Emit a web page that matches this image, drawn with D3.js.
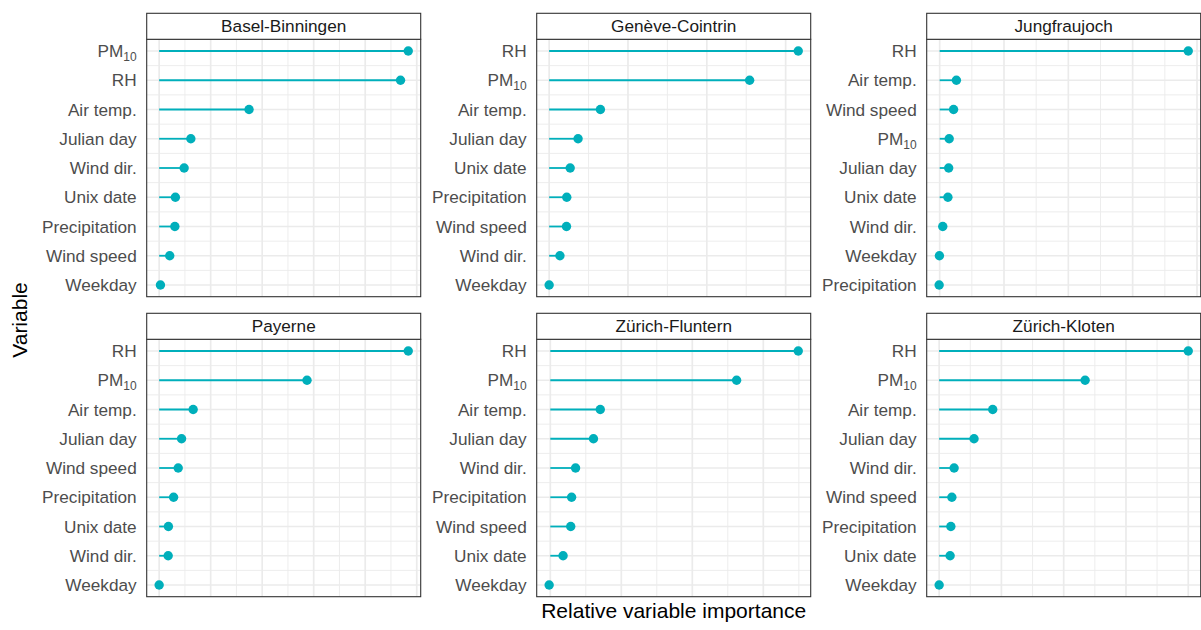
<!DOCTYPE html>
<html>
<head>
<meta charset="utf-8">
<script src="https://cdn.jsdelivr.net/npm/d3@7"></script>
<style>
  html, body { margin: 0; padding: 0; background: #ffffff; }
  svg { display: block; font-family: "Liberation Sans", Arial, Helvetica, sans-serif; }
</style>
</head>
<body>
<svg id="chart" width="1201" height="630"></svg>
<script>
// Station facets, in reading order (left to right, top to bottom)
const stations = ["Basel-Binningen", "Genève-Cointrin", "Jungfraujoch",
                  "Payerne", "Zürich-Fluntern", "Zürich-Kloten"];

// Variables per station, most important first
const varsBasel    = ["PM10", "RH", "Air temp.", "Julian day", "Wind dir.", "Unix date", "Precipitation", "Wind speed", "Weekday"];
const varsGeneve   = ["RH", "PM10", "Air temp.", "Julian day", "Unix date", "Precipitation", "Wind speed", "Wind dir.", "Weekday"];
const varsJungfrau = ["RH", "Air temp.", "Wind speed", "PM10", "Julian day", "Unix date", "Wind dir.", "Weekday", "Precipitation"];
const varsPayerne  = ["RH", "PM10", "Air temp.", "Julian day", "Wind speed", "Precipitation", "Unix date", "Wind dir.", "Weekday"];
const varsFluntern = ["RH", "PM10", "Air temp.", "Julian day", "Wind dir.", "Precipitation", "Wind speed", "Unix date", "Weekday"];
const varsKloten   = ["RH", "PM10", "Air temp.", "Julian day", "Wind dir.", "Wind speed", "Precipitation", "Unix date", "Weekday"];

// Relative importance values, same order as the variable lists
const impBasel    = [0.967, 0.937, 0.349, 0.123, 0.097, 0.063, 0.061, 0.041, 0.005];
const impGeneve   = [0.948, 0.763, 0.195, 0.110, 0.080, 0.067, 0.066, 0.041, 0.000];
const impJungfrau = [0.966, 0.065, 0.054, 0.037, 0.035, 0.032, 0.012, -0.001, -0.002];
const impPayerne  = [0.967, 0.574, 0.132, 0.087, 0.074, 0.056, 0.036, 0.035, 0.000];
const impFluntern = [0.873, 0.656, 0.176, 0.152, 0.089, 0.075, 0.072, 0.045, -0.004];
const impKloten   = [1.000, 0.586, 0.215, 0.140, 0.060, 0.051, 0.047, 0.044, 0.000];

// Major x breaks per station (free x scales, labels hidden)
const breaksBasel    = [0, 0.2, 0.4, 0.6, 0.8, 1.0];
const breaksGeneve   = [0, 0.3, 0.6, 0.9];
const breaksJungfrau = [0, 0.25, 0.5, 0.75, 1.0];
const breaksPayerne  = [0, 0.2, 0.4, 0.6, 0.8, 1.0];
const breaksFluntern = [0, 0.25, 0.5, 0.75];
const breaksKloten   = [0, 0.25, 0.5, 0.75, 1.0];

const stationVars   = [varsBasel, varsGeneve, varsJungfrau, varsPayerne, varsFluntern, varsKloten];
const stationImp    = [impBasel, impGeneve, impJungfrau, impPayerne, impFluntern, impKloten];
const stationBreaks = [breaksBasel, breaksGeneve, breaksJungfrau, breaksPayerne, breaksFluntern, breaksKloten];

const xTitle = "Relative variable importance";
const yTitle = "Variable";

// Layout
const svg = d3.select("#chart");
const colLeft = [146.7, 536.7, 926.7];
const panelW = 274;
const rowTop = [13.3, 313.3];
const stripH = 26;
const plotH = 257.4;
const accent = "#00AFBB";
const gridCol = "#EBEBEB";
const labelSize = 17.2;

stations.forEach((name, i) => {
  const col = i % 3, row = Math.floor(i / 3);
  const x0 = colLeft[col], x1 = x0 + panelW;
  const sTop = rowTop[row];
  const pTop = sTop + stripH, pBot = pTop + plotH;

  const vars = stationVars[i];
  const imp = stationImp[i];
  const breaks = stationBreaks[i];

  const lo = Math.min(0, d3.min(imp)), hi = d3.max(imp);
  const pad = (hi - lo) * 0.05;
  const x = d3.scaleLinear().domain([lo - pad, hi + pad]).range([x0, x1]);
  const y = d3.scalePoint().domain(vars).range([pTop, pBot]).padding(0.4);

  const g = svg.append("g");

  // panel background
  g.append("rect").attr("x", x0).attr("y", pTop)
    .attr("width", panelW).attr("height", plotH).attr("fill", "#ffffff");

  // minor vertical grid: halfway between majors (extended one step each side)
  const step = breaks[1] - breaks[0];
  const ext = [breaks[0] - step, ...breaks, breaks[breaks.length - 1] + step];
  const minors = d3.pairs(ext).map(([a, b]) => (a + b) / 2)
    .filter(v => v >= x.domain()[0] && v <= x.domain()[1]);
  const majors = breaks.filter(v => v >= x.domain()[0] && v <= x.domain()[1]);

  // minor horizontal grid between categories
  const yMinor = d3.pairs(vars).map(([a, b]) => (y(a) + y(b)) / 2);

  g.selectAll(".hmin").data(yMinor).join("line")
    .attr("x1", x0).attr("x2", x1).attr("y1", d => d).attr("y2", d => d)
    .attr("stroke", gridCol).attr("stroke-width", 0.9);
  g.selectAll(".vmin").data(minors).join("line")
    .attr("x1", d => x(d)).attr("x2", d => x(d)).attr("y1", pTop).attr("y2", pBot)
    .attr("stroke", gridCol).attr("stroke-width", 0.9);
  g.selectAll(".hmaj").data(vars).join("line")
    .attr("x1", x0).attr("x2", x1).attr("y1", d => y(d)).attr("y2", d => y(d))
    .attr("stroke", gridCol).attr("stroke-width", 1.7);
  g.selectAll(".vmaj").data(majors).join("line")
    .attr("x1", d => x(d)).attr("x2", d => x(d)).attr("y1", pTop).attr("y2", pBot)
    .attr("stroke", gridCol).attr("stroke-width", 1.7);

  // lollipop stems and heads
  const pts = vars.map((v, k) => ({ v, val: imp[k] }));
  g.selectAll(".stem").data(pts).join("line")
    .attr("x1", x(0)).attr("x2", d => x(d.val))
    .attr("y1", d => y(d.v)).attr("y2", d => y(d.v))
    .attr("stroke", accent).attr("stroke-width", 1.8);
  g.selectAll(".head").data(pts).join("circle")
    .attr("cx", d => x(d.val)).attr("cy", d => y(d.v)).attr("r", 4.7)
    .attr("fill", accent);

  // panel border
  g.append("rect").attr("x", x0).attr("y", pTop)
    .attr("width", panelW).attr("height", plotH)
    .attr("fill", "none").attr("stroke", "#333333").attr("stroke-width", 1.1);

  // strip
  g.append("rect").attr("x", x0).attr("y", sTop)
    .attr("width", panelW).attr("height", stripH)
    .attr("fill", "#ffffff").attr("stroke", "#333333").attr("stroke-width", 1.1);
  g.append("text").attr("x", (x0 + x1) / 2).attr("y", sTop + stripH / 2)
    .attr("dy", "0.35em").attr("text-anchor", "middle")
    .attr("font-size", labelSize).attr("fill", "#1A1A1A").text(name);

  // y axis labels (PM10 with subscript)
  const labels = g.selectAll(".ylab").data(vars).join("text")
    .attr("x", x0 - 10).attr("y", d => y(d)).attr("dy", "0.36em")
    .attr("text-anchor", "end").attr("font-size", labelSize).attr("fill", "#4D4D4D");
  labels.each(function(d) {
    const t = d3.select(this);
    if (d === "PM10") {
      t.append("tspan").text("PM");
      t.append("tspan").attr("font-size", 12).attr("dy", "0.3em").text("10");
    } else {
      t.text(d);
    }
  });
});

// axis titles
svg.append("text").attr("x", (colLeft[0] + colLeft[2] + panelW) / 2).attr("y", 618)
  .attr("text-anchor", "middle").attr("font-size", 21).attr("fill", "#000000")
  .text(xTitle);
svg.append("text")
  .attr("transform", "translate(27,320) rotate(-90)")
  .attr("text-anchor", "middle").attr("font-size", 21).attr("fill", "#000000")
  .text(yTitle);
</script>
</body>
</html>
